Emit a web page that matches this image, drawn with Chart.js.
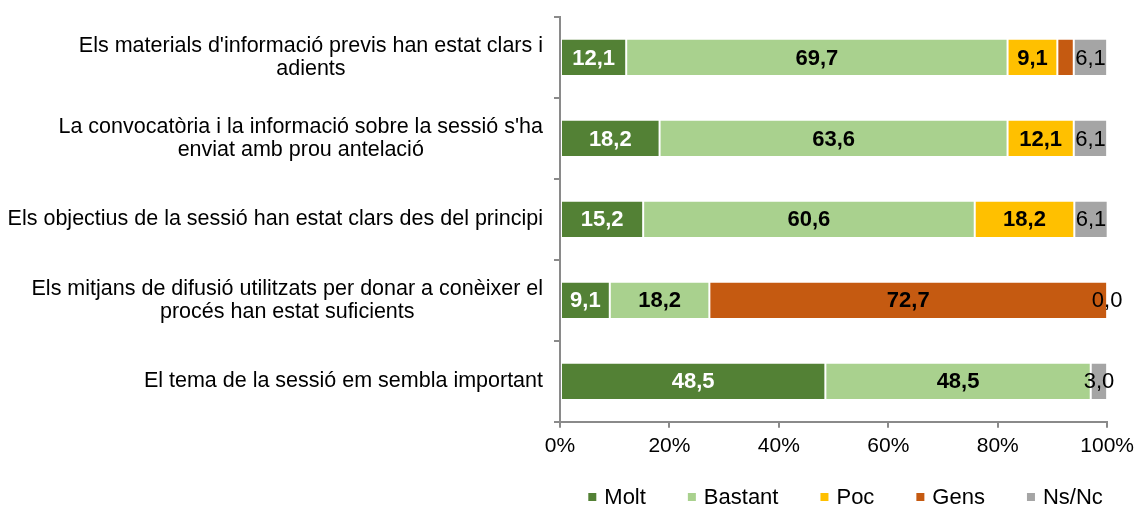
<!DOCTYPE html>
<html>
<head>
<meta charset="utf-8">
<script src="https://cdn.jsdelivr.net/npm/chart.js@4/dist/chart.umd.min.js"></script>
<style>
  html, body { margin: 0; padding: 0; background: #fff; }
  #wrap { width: 1140px; height: 508px; }
</style>
</head>
<body>
<div id="wrap"><canvas id="barChart"></canvas></div>
<script>
// categories (one line per entry, as in the original label wrapping)
var categories = [
  ["Els materials d'informació previs han estat clars i", "adients"],
  ["La convocatòria i la informació sobre la sessió s'ha", "enviat amb prou antelació"],
  ["Els objectius de la sessió han estat clars des del principi"],
  ["Els mitjans de difusió utilitzats per donar a conèixer el", "procés han estat suficients"],
  ["El tema de la sessió em sembla important"]
];

var seriesNames = ['Molt', 'Bastant', 'Poc', 'Gens', 'Ns/Nc'];
var molt    = [12.1, 18.2, 15.2, 9.1, 48.5];
var bastant = [69.7, 63.6, 60.6, 18.2, 48.5];
var poc     = [9.1, 12.1, 18.2, 0, 0];
var gens    = [3.0, 0, 0, 72.7, 0];
var nsnc    = [6.1, 6.1, 6.1, 0.0, 3.0];

var xTicks = [0, 20, 40, 60, 80, 100];

var colors = ['#538135', '#a9d18e', '#ffc000', '#c55a11', '#a5a5a5'];
var FONT = "'Liberation Sans', Arial, sans-serif";
var AXIS_GREY = '#8a8a8a';

function fmt(v){
  return v.toFixed(1).replace('.', ',');
}

// etiquetes de valor dins de les barres
var valueLabels = {
  id: 'valueLabels',
  afterDatasetsDraw: function(chart){
    var ctx = chart.ctx;
    ctx.save();
    ctx.textAlign = 'center';
    ctx.textBaseline = 'middle';
    chart.data.datasets.forEach(function(ds, di){
      var meta = chart.getDatasetMeta(di);
      var last = di === chart.data.datasets.length - 1;
      meta.data.forEach(function(bar, i){
        var v = ds.data[i];
        if (!last && v < 5) return;
        var p = bar.getCenterPoint();
        ctx.font = (last ? '' : 'bold ') + '22px ' + FONT;
        ctx.fillStyle = di === 0 ? '#ffffff' : '#000000';
        ctx.fillText(fmt(v), p.x, p.y + 1);
      });
    });
    ctx.restore();
  }
};

// etiquetes de categoria: bloc alineat a la dreta, línies centrades
var categoryLabels = {
  id: 'categoryLabels',
  afterDraw: function(chart){
    var ctx = chart.ctx;
    var yScale = chart.scales.y;
    var right = yScale.right - 17;
    var lh = 23;
    ctx.save();
    ctx.font = '21.5px ' + FONT;
    ctx.fillStyle = '#000';
    ctx.textAlign = 'center';
    ctx.textBaseline = 'middle';
    categories.forEach(function(lines, i){
      var y = yScale.getPixelForValue(i);
      var w = 0;
      lines.forEach(function(t){ w = Math.max(w, ctx.measureText(t).width); });
      var cx = right - w / 2;
      var y0 = y - (lines.length - 1) * lh / 2;
      lines.forEach(function(t, k){
        ctx.fillText(t, cx, y0 + k * lh);
      });
    });
    ctx.restore();
  }
};

// llegenda a sota
var bottomLegend = {
  id: 'bottomLegend',
  afterDraw: function(chart){
    var ctx = chart.ctx;
    var area = chart.chartArea;
    var box = 8, gap = 8, spacing = 42;
    ctx.save();
    ctx.font = '22px ' + FONT;
    ctx.textBaseline = 'middle';
    ctx.textAlign = 'left';
    var widths = seriesNames.map(function(n){ return ctx.measureText(n).width; });
    var total = 0;
    widths.forEach(function(w){ total += box + gap + w; });
    total += spacing * (seriesNames.length - 1);
    var x = (area.left + area.right) / 2 + 12 - total / 2;
    var y = 497;
    seriesNames.forEach(function(n, i){
      ctx.fillStyle = colors[i];
      ctx.fillRect(x, y - box / 2, box, box);
      ctx.fillStyle = '#000';
      ctx.fillText(n, x + box + gap, y + 1);
      x += box + gap + widths[i] + spacing;
    });
    ctx.restore();
  }
};

var seriesData = [molt, bastant, poc, gens, nsnc];

var data = {
  labels: categories,
  datasets: seriesData.map(function(values, i){
    return {
      label: seriesNames[i],
      data: values,
      backgroundColor: colors[i],
      borderColor: '#ffffff',
      borderWidth: 1,
      borderSkipped: false,
      barPercentage: 0.46,
      categoryPercentage: 1
    };
  })
};

var ctx = document.getElementById('barChart').getContext('2d');
var myBarChart = new Chart(ctx, {
  type: 'bar',
  data: data,
  options: {
    indexAxis: 'y',
    responsive: true,
    maintainAspectRatio: false,
    animation: false,
    layout: {
      padding: { left: 0, right: 29, top: 17, bottom: 43 }
    },
    plugins: {
      legend: { display: false },
      tooltip: { enabled: false }
    },
    scales: {
      x: {
        stacked: true,
        min: 0,
        max: 100,
        afterBuildTicks: function(scale){
          scale.ticks = xTicks.map(function(v){ return { value: v }; });
        },
        border: { display: true, color: AXIS_GREY, width: 2 },
        grid: {
          drawOnChartArea: false,
          drawTicks: true,
          tickLength: 6,
          color: AXIS_GREY,
          lineWidth: 2
        },
        ticks: {
          padding: 6,
          color: '#000',
          font: { family: FONT, size: 21 },
          callback: function(v){ return v + '%'; }
        }
      },
      y: {
        stacked: true,
        afterFit: function(scale){ scale.width = 560; },
        border: { display: true, color: AXIS_GREY, width: 2 },
        grid: {
          offset: true,
          drawOnChartArea: false,
          drawTicks: true,
          tickLength: 6,
          color: AXIS_GREY,
          lineWidth: 2
        },
        ticks: { display: false }
      }
    }
  },
  plugins: [valueLabels, categoryLabels, bottomLegend]
});
</script>
</body>
</html>
